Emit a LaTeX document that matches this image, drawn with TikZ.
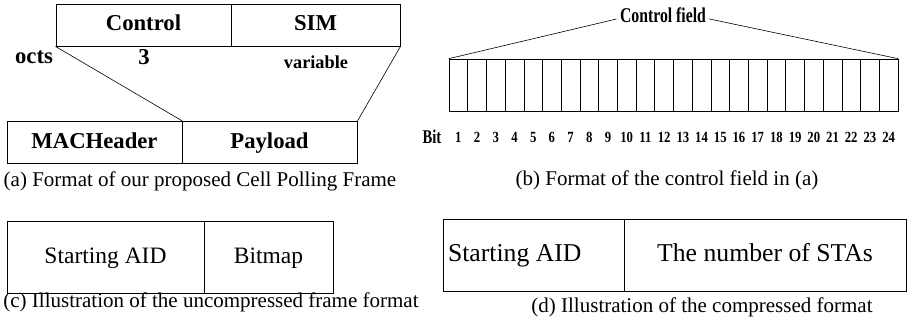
\documentclass[tikz,border=0pt]{standalone}
\usepackage{fontspec}
\setmainfont{Liberation Serif}
\usetikzlibrary{positioning, calc}
\tikzset{
  field/.style={
    rectangle, draw=black, line width=0.9pt, inner sep=0pt,
    minimum height=42pt, text centered, text height=16pt, text depth=5pt
  },
  bigfield/.style={
    rectangle, draw=black, line width=0.9pt, inner sep=0pt,
    minimum height=72pt, text centered, text height=18pt, text depth=5pt
  },
  cell/.style={
    rectangle, draw=black, line width=0.6pt, inner sep=0pt,
    minimum width=18.708pt, minimum height=52pt
  },
  hdr/.style={font=\fontsize{22.7}{26}\selectfont\bfseries},
  caption/.style={font=\fontsize{21}{25}\selectfont},
  bitnum/.style={font=\fontsize{15.5}{18}\selectfont\bfseries, inner sep=0pt},
  link/.style={line width=0.6pt}
}

\begin{document}
\begin{tikzpicture}[x=1pt, y=-1pt]
  \useasboundingbox (0,0) rectangle (908,324);

  % (a) frame fields
  \node[field, hdr, minimum width=175pt] (ctrl) at (143.5,25) {Control};
  \node[field, hdr, minimum width=169pt] (sim) at (315.5,25) {SIM};
  \node[hdr] (octs) at (34,57) {octs};
  \node[hdr] (three) at (144,57) {3};
  \node[font=\fontsize{18.3}{22}\selectfont\bfseries] (var) at (316,62) {variable};

  \node[field, hdr, minimum width=175pt] (mac) at (94.5,142.5) {MACHeader};
  \node[field, hdr, minimum width=175pt] (pay) at (269.5,142.5) {Payload};

  \draw[link] (ctrl.south west) -- (mac.north east);
  \draw[link] (sim.south east) -- (pay.north east);

  \node[caption] (capa) at (200,181) {(a) Format of our proposed Cell Polling Frame};

  % (b) control field bits
  \foreach \i in {1,...,24} {
    \node[cell] (b\i) at ({449+18.708*(\i-0.5)},85) {};
    \node[bitnum] (n\i) at ({449+18.708*(\i-0.5)},137) {\scalebox{0.82}[1]{\i}};
  }
  \node[font=\fontsize{19.5}{22}\selectfont\bfseries, inner sep=0pt] (bit) at (432,137)
    {\scalebox{0.75}[1]{Bit}};

  \node[font=\fontsize{21}{24}\selectfont\bfseries] (cf) at (663,15)
    {\scalebox{0.75}[1]{Control field}};
  \draw[link] ([yshift=-4pt]cf.west) -- (b1.north west);
  \draw[link] ([yshift=-4pt]cf.east) -- (b24.north east);

  \node[caption] (capb) at (667,180) {(b) Format of the control field in (a)};

  % (c) uncompressed format
  \node[bigfield, minimum width=197pt, font=\fontsize{23.5}{27}\selectfont] (sa1) at (105.5,257) {Starting AID};
  \node[bigfield, minimum width=129pt, font=\fontsize{23.5}{27}\selectfont] (bm) at (268.5,257) {Bitmap};
  \node[caption] (capc) at (211,302) {(c) Illustration of the uncompressed frame format};

  % (d) compressed format
  \node[bigfield, inner xsep=5pt, font=\fontsize{25.7}{29}\selectfont] (sa2) at (533.5,255)
    {\makebox[171pt][l]{Starting AID}};
  \node[bigfield, minimum width=282pt, font=\fontsize{25.7}{29}\selectfont] (nsta) at (765,255) {The number of STAs};
  \node[caption] (capd) at (702,307) {(d) Illustration of the compressed format};
\end{tikzpicture}
\end{document}
